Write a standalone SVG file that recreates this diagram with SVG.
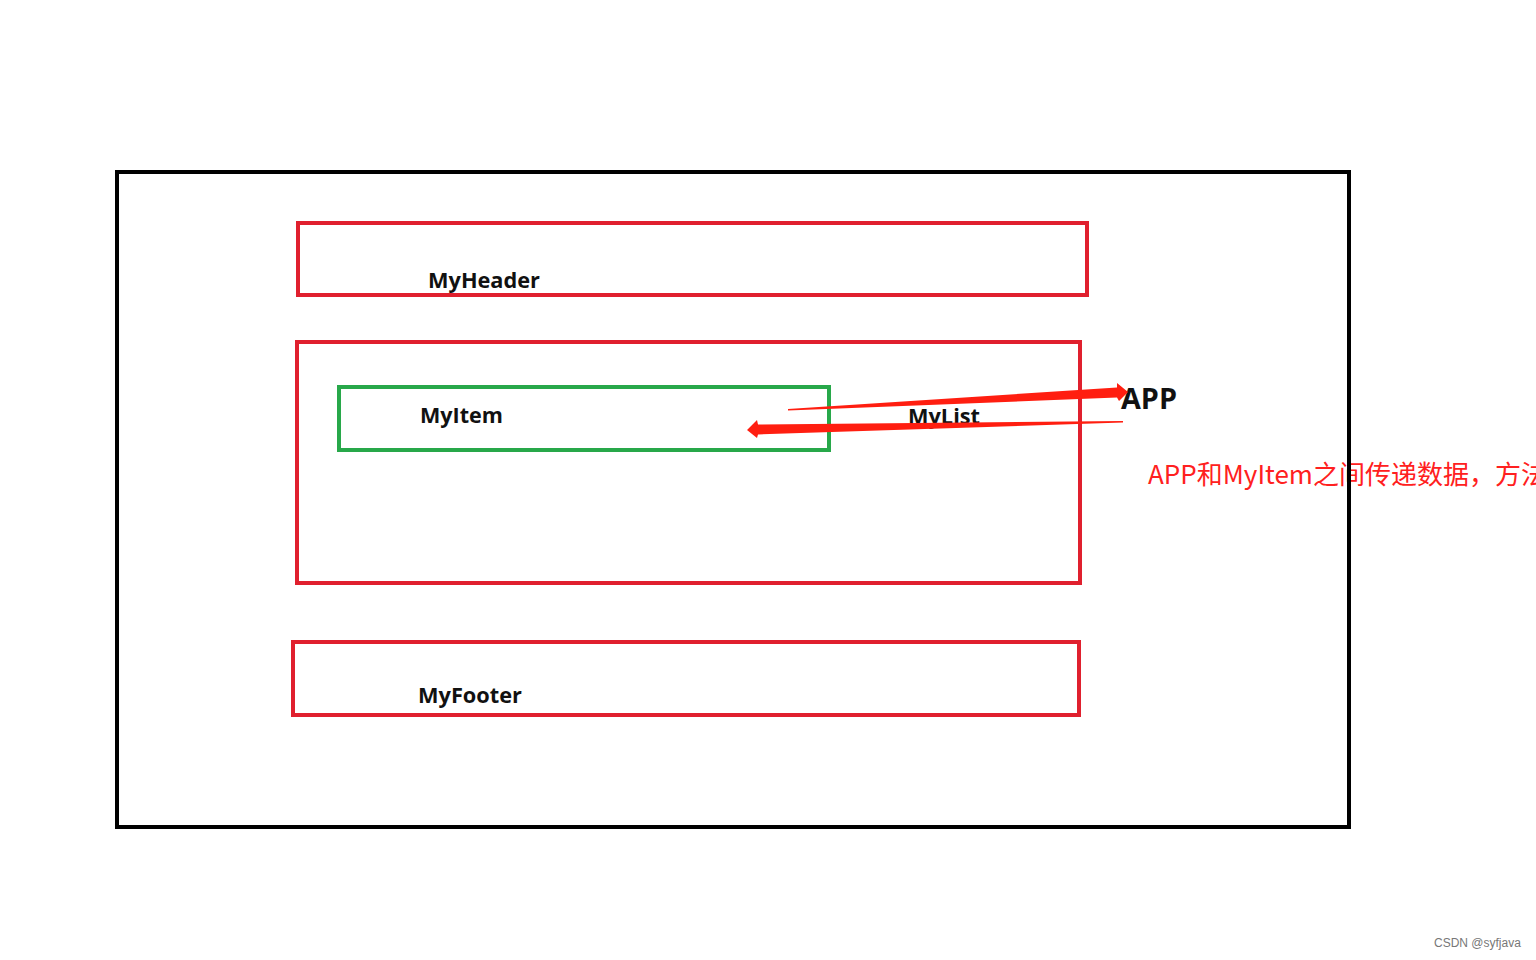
<svg xmlns="http://www.w3.org/2000/svg" width="1536" height="960" viewBox="0 0 1536 960">
<style>
.box{fill:none;stroke-width:4}
.red{stroke:#e0202e}
.green{stroke:#28a84a}
.lbl{font-family:"Open Sans","Noto Sans",sans-serif;font-weight:bold;font-size:21px;fill:#111}
.big{font-size:28px}
.note{font-family:"Noto Sans CJK SC","Noto Sans",sans-serif;font-size:26px;fill:#ff2020}
.arrow{fill:#ff1e10}
</style>
<rect width="1536" height="960" fill="#fff"/>
<text class="note" x="1148" y="484">APP和MyItem之间传递数据，方法</text>
<g id="app">
<rect class="box" x="117" y="172" width="1232" height="655" stroke="#000" stroke-width="4"/>
<text class="lbl big" x="1121" y="409" textLength="56" lengthAdjust="spacingAndGlyphs">APP</text>
</g>
<g id="myheader">
<rect class="box red" x="298" y="223" width="789" height="72"/>
<text class="lbl" x="428" y="288" textLength="112" lengthAdjust="spacingAndGlyphs">MyHeader</text>
</g>
<g id="mylist">
<rect class="box red" x="297" y="342" width="783" height="241"/>
<text class="lbl" x="908" y="424" textLength="72" lengthAdjust="spacingAndGlyphs">MyList</text>
</g>
<g id="myitem">
<rect class="box green" x="339" y="387" width="490" height="63"/>
<text class="lbl" x="420" y="423" textLength="83" lengthAdjust="spacingAndGlyphs">MyItem</text>
</g>
<g id="myfooter">
<rect class="box red" x="293" y="642" width="786" height="73"/>
<text class="lbl" x="418" y="703" textLength="104" lengthAdjust="spacingAndGlyphs">MyFooter</text>
</g>
<g id="connectors">
<polygon class="arrow" points="788,409 1117,387.5 1117,383 1128,392 1119,401 1117,397.5 788,410.5"/>
<polygon class="arrow" points="1123,421 758,424.5 757,420 747,430 757,438 758,434.5 1123,422.5"/>
</g>
<text x="1434" y="947" font-family="Liberation Sans, Arial, sans-serif" font-size="12" fill="#777">CSDN @syfjava</text>
</svg>
